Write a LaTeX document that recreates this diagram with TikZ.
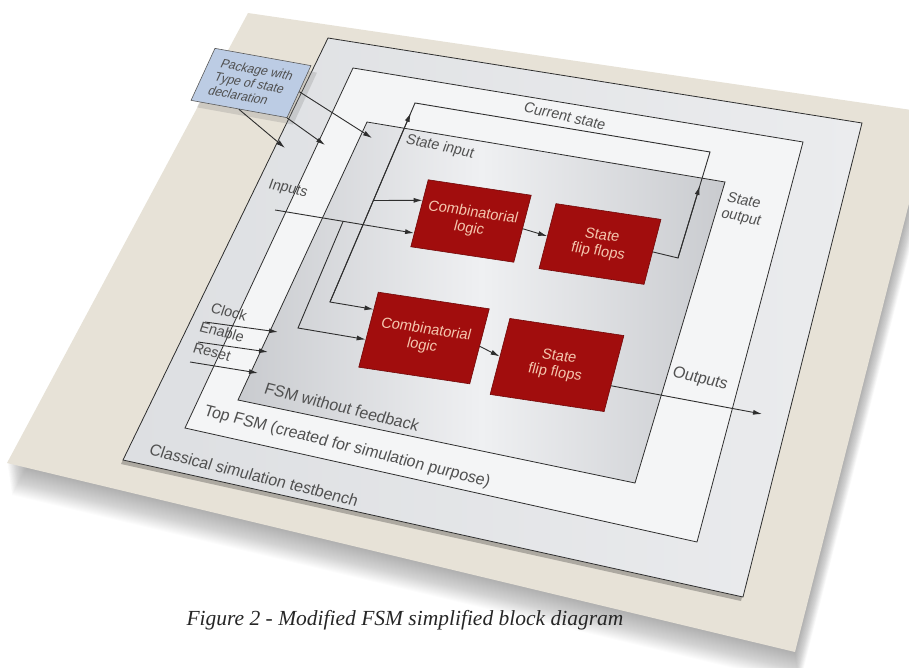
\documentclass[tikz,border=0pt]{standalone}
\usepackage{fontspec}
\setsansfont{Liberation Sans}
\newfontfamily\capfont{Liberation Serif}
\usetikzlibrary{arrows.meta,calc,shadows}
\definecolor{sheetbeige}{HTML}{E7E2D7}
\definecolor{tbleft}{HTML}{DDDFE2}
\definecolor{tbright}{HTML}{EBECEE}
\definecolor{fsmwhite}{HTML}{F4F5F6}
\definecolor{fsmgrey}{HTML}{C9CBCF}
\definecolor{fsmlight}{HTML}{EFF0F2}
\definecolor{blockred}{HTML}{A10D0D}
\definecolor{blocktext}{HTML}{F4C6AE}
\definecolor{pkgblue}{HTML}{BCCCE4}
\definecolor{wiregrey}{HTML}{2E2E2E}
\definecolor{labelgrey}{HTML}{505050}

\tikzset{
  boxline/.style={draw=wiregrey, line width=0.8pt},
  wire/.style={draw=wiregrey, line width=0.9pt},
  arr/.style={wire, -{Latex[length=9pt,width=5pt]}},
  blk/.style={fill=blockred, draw=blockred!70!black, line width=0.6pt, text=blocktext,
    align=center, inner sep=0pt, font=\sffamily\fontsize{14.5}{16}\selectfont,
    cm={1,-0.15,0.26,1,(0,0)}},
  lbltext/.style={text=labelgrey, inner sep=0pt},
  toplbl/.style={lbltext, font=\sffamily\fontsize{14}{16}\selectfont, cm={1,-0.22,0.36,1,(0,0)}},
  botlbl/.style={lbltext, font=\sffamily\fontsize{15.5}{17}\selectfont, cm={1,-0.25,0.34,1,(0,0)}},
  pkgbox/.style={fill=pkgblue, draw=gray!70!black, line width=0.6pt, text=labelgrey,
    align=left, inner sep=0pt, minimum width=96pt, minimum height=52pt,
    font=\sffamily\fontsize{12}{13.5}\selectfont, cm={1,-0.18,0.46,1,(0,0)},
    drop shadow={shadow xshift=6pt, shadow yshift=-7pt, opacity=0.25}},
}

\begin{document}
\begin{tikzpicture}[x=1pt,y=-1pt]
  \useasboundingbox (0,0) rectangle (909,668);
  \clip (0,0) rectangle (909,668);

  % sheet and its shadow
  \coordinate (sh1) at (248,13);
  \coordinate (sh2) at (932,113);
  \coordinate (sh3) at (795,652);
  \coordinate (sh4) at (7,463);
  \foreach \d in {1,...,32}
    \fill[black,opacity=0.012] ([shift={(0.15*\d,\d)}]sh1) -- ([shift={(0.15*\d,\d)}]sh2)
      -- ([shift={(0.15*\d,\d)}]sh3) -- ([shift={(0.15*\d,\d)}]sh4) -- cycle;
  \fill[sheetbeige] (sh1) -- (sh2) -- (sh3) -- (sh4) -- cycle;

  % nested boxes
  \coordinate (tb1) at (328,38);
  \coordinate (tb2) at (862,123);
  \coordinate (tb3) at (743,597);
  \coordinate (tb4) at (123,460);
  \fill[black,opacity=0.25] ([shift={(-2,4)}]tb1) -- ([shift={(-2,4)}]tb2)
    -- ([shift={(-2,4)}]tb3) -- ([shift={(-2,4)}]tb4) -- cycle;
  \draw[boxline, left color=tbleft, right color=tbright] (tb1) -- (tb2) -- (tb3) -- (tb4) -- cycle;

  \coordinate (tf1) at (353,68);
  \coordinate (tf2) at (803,142);
  \coordinate (tf3) at (697,542);
  \coordinate (tf4) at (185,428);
  \draw[boxline, fill=fsmwhite] (tf1) -- (tf2) -- (tf3) -- (tf4) -- cycle;

  \coordinate (fw1) at (367,122);
  \coordinate (fw2) at (725,182);
  \coordinate (fw3) at (635,483);
  \coordinate (fw4) at (238,400);
  \draw[boxline, left color=fsmgrey, right color=fsmgrey, middle color=fsmlight]
    (fw1) -- (fw2) -- (fw3) -- (fw4) -- cycle;

  % logic blocks
  \node[blk, minimum width=103pt, minimum height=67pt] (cl1) at (471,221) {Combinatorial\\logic};
  \node[blk, minimum width=105pt, minimum height=65pt] (ff1) at (600,244) {State\\flip flops};
  \node[blk, minimum width=111pt, minimum height=75pt] (cl2) at (424,338) {Combinatorial\\logic};
  \node[blk, minimum width=114pt, minimum height=76pt] (ff2) at (557,365) {State\\flip flops};

  % current state loop
  \coordinate (lpBR) at (678,258);
  \coordinate (lpTR) at (710,152);
  \coordinate (lpTL) at (415,103);
  \coordinate (lpBL) at (330,302);
  \draw[arr] (ff1.east) -- (lpBR) -- (lpTR) -- (lpTL) -- (lpBL) -- (cl2.160);
  \draw[arr] (lpBR) -- ($(lpBR)!0.68!(lpTR)$);
  \draw[arr] (lpBL) -- ($(lpBL)!0.95!(lpTL)$);
  \draw[arr] ($(lpBL)!0.51!(lpTL)$) -- (cl1.166);

  % inputs
  \coordinate (inS) at (275,210);
  \coordinate (inB) at (298,328);
  \draw[arr] (inS) -- (cl1.201);
  \draw[arr] ($(inS)!0.49!(cl1.201)$) -- (inB) -- (cl2.190);

  \draw[arr] (cl1.east) -- (ff1.west);
  \draw[arr] (cl2.east) -- (ff2.west);

  \coordinate (outE) at (762,414);
  \draw[arr] (ff2.348) -- (outE);

  % clock, enable, reset
  \coordinate (ckS) at (205,322);
  \coordinate (ckE) at (278,332);
  \coordinate (enS) at (198,342);
  \coordinate (enE) at (268,352);
  \coordinate (rsS) at (190,362);
  \coordinate (rsE) at (258,373);
  \draw[arr] (ckS) -- (ckE);
  \draw[arr] (enS) -- (enE);
  \draw[arr] (rsS) -- (rsE);

  % labels
  \node[toplbl] (cur) at (565,116) {Current state};
  \node[toplbl] (sin) at (440,147) {State input};
  \node[toplbl, align=left] (sout) at (744,210) {State\\output};
  \node[toplbl] (inp) at (288,189) {Inputs};
  \node[botlbl, font=\sffamily\fontsize{14}{16}\selectfont] (clk) at (229,312) {Clock};
  \node[botlbl, font=\sffamily\fontsize{14}{16}\selectfont] (ena) at (222,332) {Enable};
  \node[botlbl, font=\sffamily\fontsize{14}{16}\selectfont] (rst) at (212,352) {Reset};
  \node[botlbl] (outl) at (700,379) {Outputs};
  \node[botlbl] (fwl) at (342,407) {FSM without feedback};
  \node[botlbl] (tfl) at (347,447) {Top FSM (created for simulation purpose)};
  \node[botlbl] (tbl) at (254,475) {Classical simulation testbench};

  % package with the state type
  \node[pkgbox] (pkg) at (251,83) {Package with\\Type of state\\declaration};
  \coordinate (pe1) at (285,148);
  \coordinate (pe2) at (325,145);
  \coordinate (pe3) at (372,138);
  \draw[arr] (pkg.south) -- (pe1);
  \draw[arr] (pkg.south east) -- (pe2);
  \draw[arr] (pkg.east) -- (pe3);

  \node[anchor=west, font=\capfont\itshape\fontsize{21.5}{24}\selectfont, text=black!85]
    (cap) at (183,620) {Figure 2 - Modified FSM simplified block diagram};
\end{tikzpicture}
\end{document}
